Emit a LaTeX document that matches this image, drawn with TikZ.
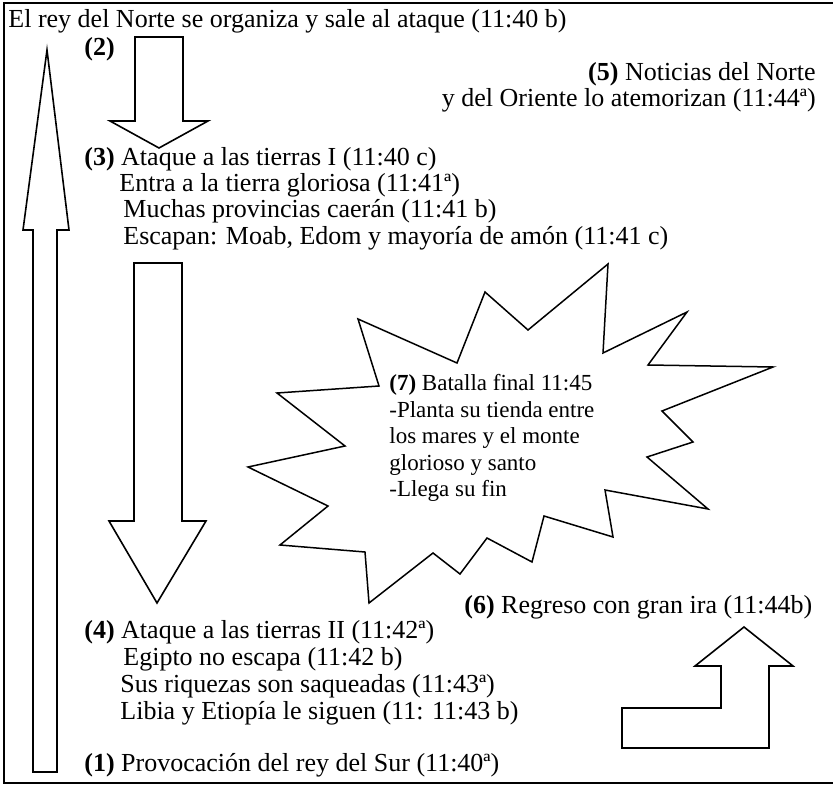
\documentclass[tikz,border=0pt]{standalone}
\usepackage{fontspec}
\setmainfont{Liberation Serif}

\begin{document}
\begin{tikzpicture}[x=0.5pt,y=-0.5pt,
  txt/.style={anchor=base west,inner sep=0pt,font=\fontsize{13pt}{13.5pt}\selectfont},
  txtr/.style={txt,anchor=base east},
  bursttxt/.style={anchor=north west,inner sep=0pt,align=left,
                   font=\fontsize{11.5pt}{13.25pt}\selectfont},
  blk/.style={draw=black,line width=0.8pt,line join=miter,fill=white},
  burst/.style={draw=black,line width=0.75pt,line join=miter,fill=white},
  frm/.style={draw=black,line width=1.1pt}
]
  \useasboundingbox (0,0) rectangle (833,785);
  \draw[frm] (833,3) -- (4,3) -- (4,783) -- (833,783);

  % block arrows
  \draw[blk] (33,772) -- (33,230) -- (23,230) -- (47,50) -- (69,230)
             -- (57,230) -- (57,772) -- cycle;
  \draw[blk] (135,37) -- (183,37) -- (183,121) -- (208,121) -- (159,148)
             -- (110,121) -- (135,121) -- cycle;
  \draw[blk] (134,263) -- (182,263) -- (182,521) -- (206,521) -- (157,603)
             -- (109,521) -- (134,521) -- cycle;
  \draw[blk] (622,708) -- (721,708) -- (721,666) -- (695,666) -- (744,627)
             -- (793,666) -- (769,666) -- (769,748) -- (622,748) -- cycle;

  % star of the final battle
  \draw[burst] (358,319) -- (457,363) -- (485,292) -- (528,330) -- (608,264)
     -- (603,353) -- (687,312) -- (648,365) -- (773,367) -- (662,411)
     -- (693,442) -- (647,457) -- (708,509) -- (605,490) -- (613,537)
     -- (544,516) -- (532,562) -- (487,538) -- (460,574) -- (433,553)
     -- (369,603) -- (365,552) -- (280,545) -- (328,506) -- (248,467)
     -- (345,446) -- (277,393) -- (379,386) -- cycle;

  \node[txt] (title) at (8,28) {El rey del Norte se organiza y sale al ataque (11:40 b)};
  \node[txt] (s2) at (84,56) {\textbf{(2)}};
  \node[txtr] (s5a) at (816,81) {\textbf{(5)} Noticias del Norte};
  \node[txtr] (s5b) at (816,107) {y del Oriente lo atemorizan (11:44ª)};

  \node[txt] (s3) at (84,166) {\textbf{(3)} Ataque a las tierras I (11:40 c)};
  \node[txt] (s3a) at (119,192) {Entra a la tierra gloriosa (11:41ª)};
  \node[txt] (s3b) at (123,218) {Muchas provincias caerán (11:41 b)};
  \node[txt] (s3c) at (123,245) {Escapan: Moab, Edom y mayoría de amón (11:41 c)};

  \node[bursttxt] (s7) at (389,374) {\textbf{(7)} Batalla final 11:45\\
    -Planta su tienda entre\\los mares y el monte\\glorioso y santo\\-Llega su fin};

  \node[txt] (s6) at (464,613) {\textbf{(6)} Regreso con gran ira (11:44b)};

  \node[txt] (s4) at (84,638) {\textbf{(4)} Ataque a las tierras II (11:42ª)};
  \node[txt] (s4a) at (123,665) {Egipto no escapa (11:42 b)};
  \node[txt] (s4b) at (120,692) {Sus riquezas son saqueadas (11:43ª)};
  \node[txt] (s4c) at (120,719) {Libia y Etiopía le siguen (11: 11:43 b)};

  \node[txt] (s1) at (84,771) {\textbf{(1)} Provocación del rey del Sur (11:40ª)};
\end{tikzpicture}
\end{document}
